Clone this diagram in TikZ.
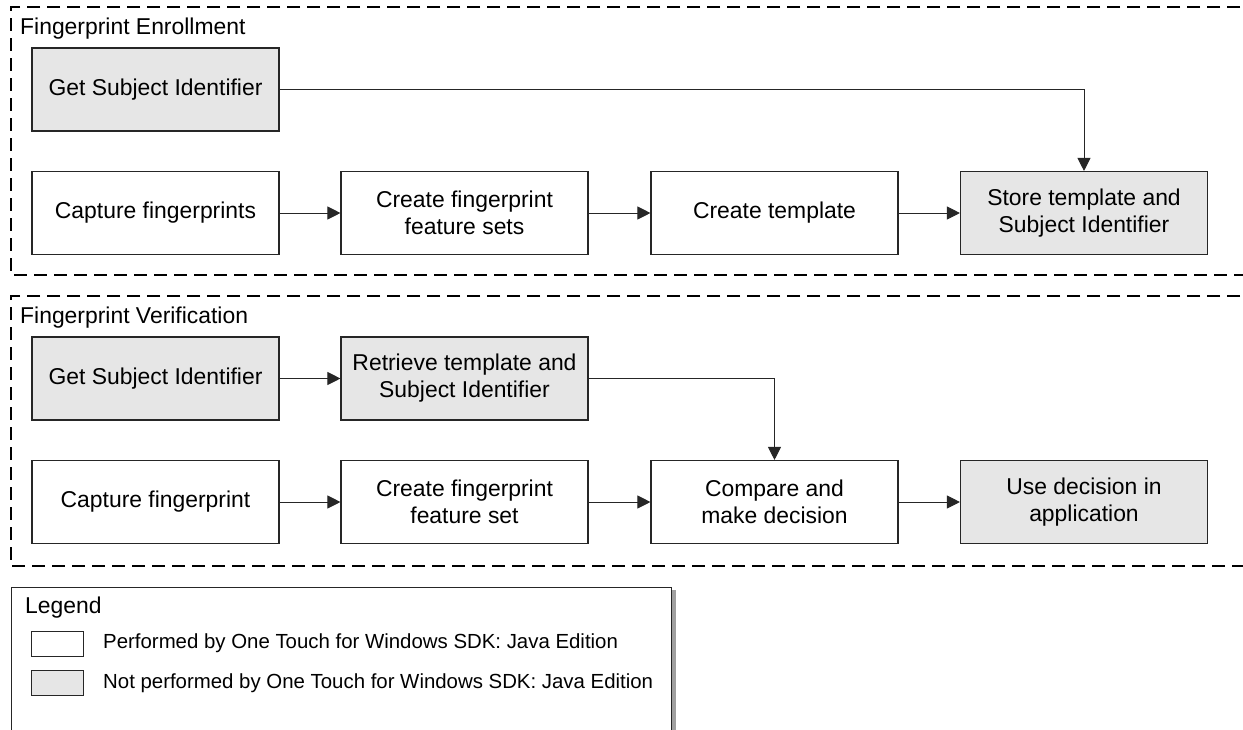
\documentclass[tikz,border=0pt]{standalone}
\usepackage{fontspec}
\setmainfont{Liberation Sans}
\usetikzlibrary{arrows.meta}
\definecolor{stepgray}{HTML}{E6E6E6}
\definecolor{edgegray}{HTML}{262626}
\definecolor{shadowgray}{HTML}{A0A0A0}
\begin{document}
\begin{tikzpicture}[x=1pt,y=-1pt,
  font=\fontsize{22.9}{27}\selectfont,
  proc/.style={draw=edgegray, line width=1.1pt, fill=white,
    minimum width=247pt, minimum height=83pt, inner sep=0pt, align=center},
  ext/.style={proc, fill=stepgray},
  flow/.style={draw=black!85, line width=0.9pt,
    -{Triangle[length=13pt,width=13pt]}},
  lane/.style={draw=black, line width=1.1pt, dash pattern=on 13pt off 7pt},
  lanetitle/.style={anchor=base west, inner sep=0pt},
  keybox/.style={draw=edgegray, line width=1pt, minimum width=52pt,
    minimum height=25pt, inner sep=0pt},
  keytext/.style={anchor=west, inner sep=0pt,
    font=\fontsize{20.4}{24}\selectfont}]
\useasboundingbox (0,0) rectangle (1243,729);
\clip (0,0) rectangle (1243,729);

% swim lanes (open on the right)
\draw[lane] (1260,7) -- (11,7) -- (11,275) -- (1260,275);
\draw[lane] (1260,296) -- (11,296) -- (11,566) -- (1260,566);
\node[lanetitle] (enrtitle) at (20,34) {Fingerprint Enrollment};
\node[lanetitle] (vertitle) at (20,323) {Fingerprint Verification};

% enrollment steps
\node[ext]  (egsi)   at (155.5,89.5) {Get Subject Identifier};
\node[proc] (ecap)   at (155.5,213)  {Capture fingerprints};
\node[proc] (efeat)  at (464.5,213)  {Create fingerprint\\feature sets};
\node[proc] (etmpl)  at (774.5,213)  {Create template};
\node[ext]  (estore) at (1084,213)   {Store template and\\Subject Identifier};

\draw[flow] (ecap) -- (efeat);
\draw[flow] (efeat) -- (etmpl);
\draw[flow] (etmpl) -- (estore);
\draw[flow] (egsi.east) -| (estore.north);

% verification steps
\node[ext]  (vgsi)   at (155.5,378.5) {Get Subject Identifier};
\node[ext]  (vret)   at (464.5,378.5) {Retrieve template and\\Subject Identifier};
\node[proc] (vcap)   at (155.5,502)   {Capture fingerprint};
\node[proc] (vfeat)  at (464.5,502)   {Create fingerprint\\feature set};
\node[proc] (vcmp)   at (774.5,502)   {Compare and\\make decision};
\node[ext]  (vuse)   at (1084,502)    {Use decision in\\application};

\draw[flow] (vgsi) -- (vret);
\draw[flow] (vcap) -- (vfeat);
\draw[flow] (vfeat) -- (vcmp);
\draw[flow] (vcmp) -- (vuse);
\draw[flow] (vret.east) -| (vcmp.north);

% legend
\fill[shadowgray] (671,590) rectangle (676,740);
\draw[draw=edgegray, line width=1pt, fill=white] (11,740) -- (11,587) -- (671,587) -- (671,740);
\node[lanetitle] (legtitle) at (25,613) {Legend};
\node[keybox] (keyown) at (57,643.5) {};
\node[keybox, fill=stepgray] (keyext) at (57,683) {};
\node[keytext] (keyowntext) at (103,643.5) {Performed by One Touch for Windows SDK: Java Edition};
\node[keytext] (keyexttext) at (103,683) {Not performed by One Touch for Windows SDK: Java Edition};
\end{tikzpicture}
\end{document}
